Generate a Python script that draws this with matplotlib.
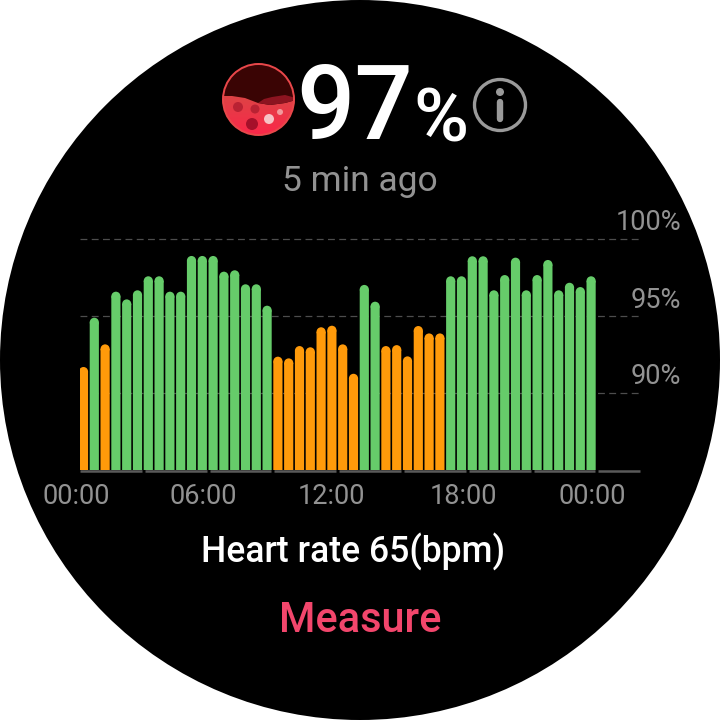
import numpy as np
import matplotlib
matplotlib.use("Agg")
import matplotlib.pyplot as plt
from matplotlib.patches import Circle, Polygon

plt.rcParams["font.family"] = ["Roboto", "DejaVu Sans"]

SPO2 = [91.69, 94.89, 93.16, 96.58, 96.08, 96.67, 97.58, 97.58, 96.58, 96.58,
        98.90, 98.90, 98.90, 97.88, 97.97, 97.06, 97.06, 95.67, 92.36, 92.25,
        93.05, 92.97, 94.27, 94.37, 93.16, 91.25, 97.02, 95.93, 93.05, 93.11,
        92.38, 94.35, 93.87, 93.87, 97.58, 97.58, 98.88, 98.88, 96.67, 97.66,
        98.79, 96.67, 97.66, 98.64, 96.67, 97.16, 96.88, 97.58]
LOW_SLOTS = [0, 2, 18, 19, 20, 21, 22, 23, 24, 25, 28, 29, 30, 31, 32, 33]
GRID_VALUES = [100, 95, 90]
GRID_LABELS = ["100%", "95%", "90%"]
TIME_LABELS = ["00:00", "06:00", "12:00", "18:00", "00:00"]
TIME_LABEL_PX = [76, 203, 331, 463, 592]

GREEN = "#66cc6a"
ORANGE = "#ff9a0a"
GREY = "#929292"


def draw_icon(ax):
    cx, cy, r = 258.5, 99.5, 36.5
    ax.add_patch(Circle((cx, cy), r, fc="#e8474a", ec="none", zorder=2))
    clip = Circle((cx, cy), r - 2, transform=ax.transData)

    # water gradient, dull red under the surface to bright at the bottom
    ramp = np.linspace(0, 1, 64).reshape(-1, 1)
    rgb = np.zeros((64, 1, 3))
    rgb[:, :, 0] = 0.86 + 0.13 * ramp
    rgb[:, :, 1] = 0.27 - 0.12 * ramp
    rgb[:, :, 2] = 0.27 + 0.02 * ramp
    img = ax.imshow(rgb, extent=(222, 296, 136, 94), aspect="auto", zorder=3)
    img.set_clip_path(clip)
    ax.set_xlim(0, 720)
    ax.set_ylim(720, 0)

    # dark air above the wave
    sky_x = [222, 232, 245, 258, 270, 285, 296, 296, 222]
    sky_y = [96, 96, 98, 103, 105, 103, 100, 60, 60]
    sky = Polygon(list(zip(sky_x, sky_y)), fc="#3a0404", ec="none", zorder=4)
    ax.add_patch(sky)
    sky.set_clip_path(clip)

    back_x = [258, 264, 272, 285, 296, 296, 285, 270]
    back_y = [103, 99, 97, 95, 98, 100, 103, 105]
    back = Polygon(list(zip(back_x, back_y)), fc="#8c1420", ec="none", zorder=5)
    ax.add_patch(back)
    back.set_clip_path(clip)

    for x, y, rad, col in [(238, 107, 5, "#b92233"), (255, 109, 4.5, "#b92233"),
                           (252, 124, 6, "#a5102a"), (269, 119, 5, "#f7c4c6"),
                           (280, 112, 3, "#f29a9c")]:
        ax.add_patch(Circle((x, y), rad, fc=col, ec="none", zorder=8))


def draw_info(ax):
    ax.add_patch(Circle((500, 105), 25.5, fc="none", ec="#9a9a9a", lw=2.4, zorder=2))
    ax.add_patch(Circle((500, 92), 4, fc="#9a9a9a", ec="none", zorder=2))
    ax.plot([500, 500], [102, 119], color="#9a9a9a", lw=4.6,
            solid_capstyle="round", zorder=2)


def main():
    fig = plt.figure(figsize=(7.2, 7.2), dpi=100, facecolor="white")

    # overlay in pixel coords for the watch face
    face = fig.add_axes([0, 0, 1, 1])
    face.set_xlim(0, 720)
    face.set_ylim(720, 0)
    face.axis("off")
    face.add_patch(Circle((360, 360), 360, fc="black", ec="none", zorder=1))

    draw_icon(face)
    draw_info(face)

    face.text(355, 100, "97", color="white", fontsize=74, ha="center",
              va="center_baseline", fontweight="medium", zorder=9)
    face.text(441, 114, "%", color="white", fontsize=54, ha="center",
              va="center_baseline", fontweight="medium", zorder=9)
    face.text(360, 182, "5 min ago", color=GREY, fontsize=25.5, ha="center",
              va="center", zorder=9)

    for label, px in zip(TIME_LABELS, TIME_LABEL_PX):
        face.text(px, 496, label, color=GREY, fontsize=19.5, ha="center",
                  va="center", zorder=9)
    for label, py in zip(GRID_LABELS, [222, 300, 377]):
        face.text(681, py, label, color=GREY, fontsize=19.5, ha="right",
                  va="center", zorder=9)

    face.text(353, 552, "Heart rate 65(bpm)", color="white", fontsize=25.6,
              ha="center", va="center", fontweight="medium", zorder=9)
    face.text(360, 621, "Measure", color="#f2466c", fontsize=30, ha="center",
              va="center", fontweight="medium", zorder=9)

    # chart axes: 15.4 px per percent, 10.8 px per slot
    left, right, bottom, top = 80, 640, 470, 239
    ax = fig.add_axes([left / 720, 1 - bottom / 720, (right - left) / 720, (bottom - top) / 720])
    ax.patch.set_alpha(0)
    ax.set_xlim((left - 83.5) / 10.8, (right - 83.5) / 10.8)
    ax.set_ylim(85, 100)
    ax.axis("off")

    for value in GRID_VALUES:
        ax.plot(ax.get_xlim(), [value, value], color="#4d4d4d", lw=0.9,
                dashes=(5.5, 3.5), zorder=1, clip_on=False)

    slots = np.arange(len(SPO2))
    values = np.array(SPO2)
    colors = [ORANGE if i in LOW_SLOTS else GREEN for i in slots]
    bar_w = 0.85
    radius = 4.6 / 15.4
    bars = ax.bar(slots, values - 85 - radius, bottom=85, width=bar_w, color=colors, zorder=2)
    for bar in bars:
        bar.set_snap(False)
    # round tops
    ax.scatter(slots, values - radius, s=43.5, c=colors, linewidths=0, zorder=2)

    # baseline ticks, one segment every six slots
    for start in np.arange(0, 54, 6):
        x0 = start - 0.33
        x1 = min(x0 + 5.72, ax.get_xlim()[1])
        ax.plot([x0, x1], [84.93, 84.93], color="#5a5a5a", lw=1.8,
                solid_capstyle="butt", zorder=1, clip_on=False)

    fig.savefig("out.png", dpi=100, facecolor="white")


if __name__ == "__main__":
    main()
